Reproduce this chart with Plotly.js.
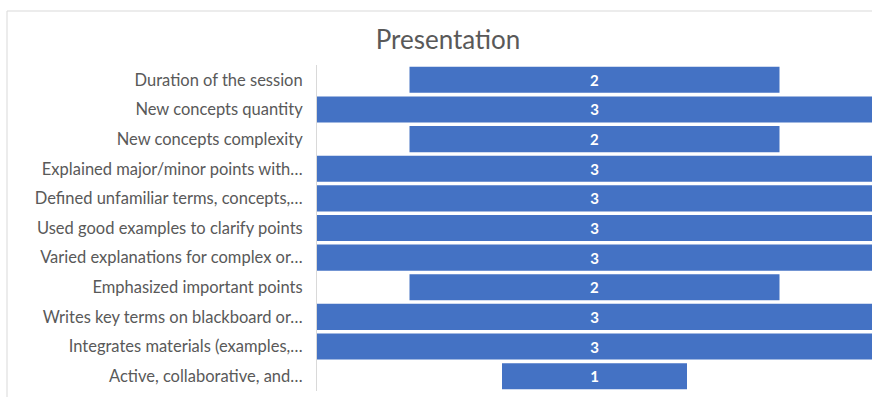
<!DOCTYPE html>
<html>
<head>
<meta charset="utf-8">
<script src="https://cdn.plot.ly/plotly-3.0.1.min.js"></script>
<style>html,body{margin:0;padding:0;background:#fff;}#chart{width:872px;height:397px;}</style>
</head>
<body>
<div id="chart"></div>
<script>
const categories = [
  "Duration of the session",
  "New concepts quantity",
  "New concepts complexity",
  "Explained major/minor points with…",
  "Defined unfamiliar terms, concepts,…",
  "Used good examples to clarify points",
  "Varied explanations for complex or…",
  "Emphasized important points",
  "Writes key terms on blackboard or…",
  "Integrates materials (examples,…",
  "Active, collaborative, and…"
];
const values = [2, 3, 2, 3, 3, 3, 3, 2, 3, 3, 1];
const chartTitle = "Presentation";

const trace = {
  type: "funnel",
  y: categories,
  x: values,
  orientation: "h",
  marker: {color: "#4472C4", line: {width: 0}},
  connector: {visible: false},
  textinfo: "value",
  textposition: "inside",
  insidetextanchor: "middle",
  textfont: {color: "#ffffff", size: 15, family: "Lato, sans-serif", weight: "bold"},
  hoverinfo: "none"
};

const layout = {
  width: 872,
  height: 397,
  margin: {l: 317, r: 0, t: 65, b: 6, pad: 0},
  paper_bgcolor: "#ffffff",
  plot_bgcolor: "#ffffff",
  funnelgap: 0.12,
  showlegend: false,
  title: {
    text: chartTitle,
    x: 448/872, xanchor: "center", xref: "container",
    y: 1 - 40/397, yanchor: "middle", yref: "container",
    font: {family: "Lato, sans-serif", size: 26, color: "#595959"}
  },
  xaxis: {
    range: [-1.5, 1.5],
    showticklabels: false, showgrid: false, zeroline: false, showline: false,
    fixedrange: true
  },
  yaxis: {
    type: "category",
    categoryorder: "array",
    categoryarray: categories,
    range: [categories.length - 0.5, -0.5],
    showline: true, linecolor: "#d9d9d9", linewidth: 1,
    showgrid: false, zeroline: false,
    ticks: "", ticklabelstandoff: 10,
    tickfont: {family: "Lato, sans-serif", size: 16.5, color: "#595959"}
  },
  shapes: [
    {type: "rect", xref: "paper", yref: "paper",
     x0: (7-317)/555, x1: 1.2, y0: -0.3, y1: 1 + (65-11)/326,
     line: {color: "#d9d9d9", width: 1}, fillcolor: "rgba(0,0,0,0)", layer: "below"}
  ]
};

Plotly.newPlot("chart", [trace], layout, {displayModeBar: false, staticPlot: true});
</script>
</body>
</html>
